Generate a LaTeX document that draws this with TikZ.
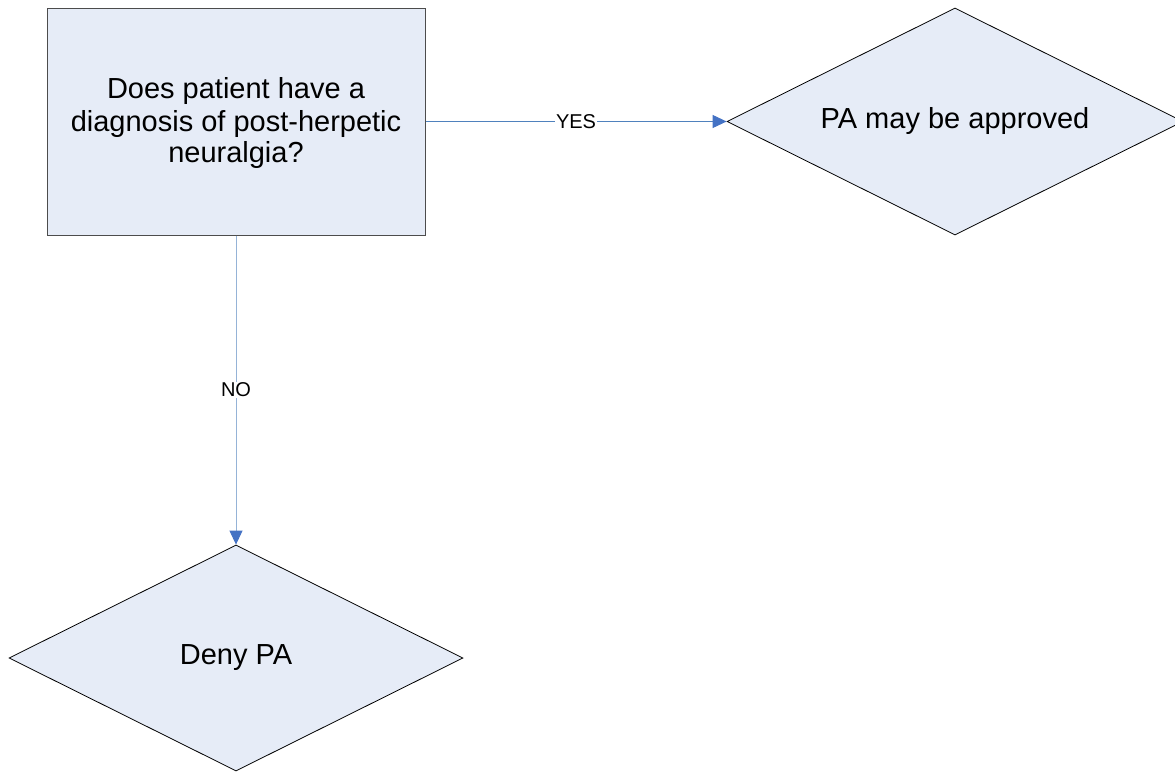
\documentclass[tikz,border=0pt]{standalone}
\usepackage{fontspec}
\setmainfont{Liberation Sans}
\usetikzlibrary{shapes.geometric,arrows.meta}
\definecolor{boxfill}{HTML}{E6ECF7}
\definecolor{lineblue}{HTML}{4F81BD}
\definecolor{lightblue}{HTML}{95B3D7}
\definecolor{tipblue}{HTML}{4472C4}
\tikzset{
  x=1pt, y=-1pt,
  procbox/.style={draw=black!70, fill=boxfill, line width=1pt, minimum width=378pt, minimum height=227pt, inner sep=0pt, align=center, font=\fontsize{29}{32}\selectfont},
  decision/.style={diamond, draw=black, fill=boxfill, line width=0.8pt, inner sep=0pt, font=\fontsize{29}{32}\selectfont},
  conn/.style={line width=1pt, -{Triangle[length=14pt,width=13pt,color=tipblue]}},
  lbl/.style={fill=white, inner sep=1pt, font=\fontsize{20}{22}\selectfont}
}
\begin{document}
\begin{tikzpicture}
\useasboundingbox (0,0) rectangle (1175,771);
\node[procbox] (q) at (236,121.5) {};
\node[align=center, font=\fontsize{29}{32}\selectfont] at (236,123.5) {Does patient have a\\diagnosis of post-herpetic\\neuralgia?};
\node[decision, minimum width=456pt, minimum height=227pt] (yes) at (955,121.5) {};
\node at (955,121) {\fontsize{29}{32}\selectfont PA may be approved};
\node[decision, minimum width=454pt, minimum height=226pt] (no) at (236,658) {};
\node at (236,658) {\fontsize{29}{32}\selectfont Deny PA};
\draw[conn, draw=lineblue] (q.east) -- node[lbl] {YES} (yes.west);
\draw[conn, draw=lightblue] (q.south) -- node[lbl, pos=0.5] {NO} (no.north);
\end{tikzpicture}
\end{document}
